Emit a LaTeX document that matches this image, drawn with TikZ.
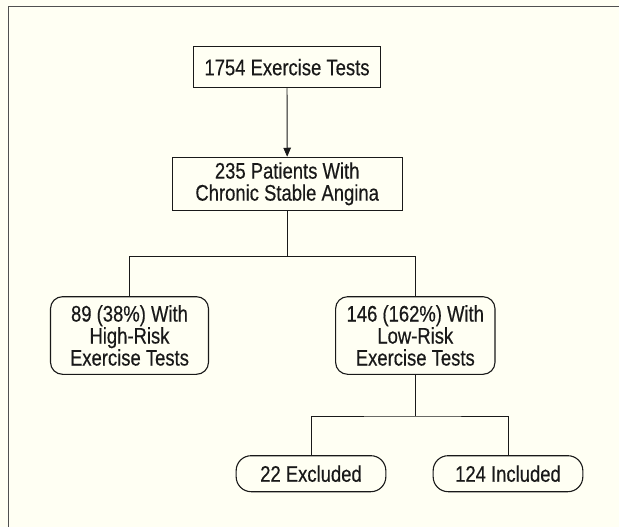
\documentclass[tikz,border=0pt]{standalone}
\usepackage{fontspec}
\setmainfont{Liberation Sans}[FakeStretch=0.82, FakeBold=0.4]
\usetikzlibrary{arrows.meta}
\definecolor{bgcream}{RGB}{255,255,243}
\definecolor{framegray}{RGB}{80,80,80}
\definecolor{inkdark}{RGB}{25,25,25}
\begin{document}
\begin{tikzpicture}[x=1pt,y=-1pt,
  every node/.style={font=\fontsize{22.5}{22}\selectfont, text=inkdark, align=center, inner sep=0pt},
  sqbox/.style={draw=inkdark, line width=1.1pt, fill=bgcream, rectangle},
  rbox/.style={draw=inkdark, line width=1.1pt, fill=bgcream, rectangle, rounded corners=12pt},
  pill/.style={draw=inkdark, line width=1.1pt, fill=bgcream, rectangle, rounded corners=15pt},
  link/.style={draw=inkdark, line width=0.9pt},
  arr/.style={link, -{Triangle[length=9pt,width=7.5pt]}}
]
\useasboundingbox (0,0) rectangle (619,527);
\fill[bgcream] (0,0) rectangle (619,527);
\draw[framegray, line width=1.4pt] (8.3,527) -- (8.3,6.7) -- (619,6.7);

\node[sqbox, minimum width=187pt, minimum height=41pt] (b1) at (287,67.2) {1754 Exercise Tests};
\node[sqbox, minimum width=230pt, minimum height=53pt] (b2) at (287.2,183.8) {235 Patients With\\Chronic Stable Angina};
\node[rbox, minimum width=158pt, minimum height=77.6pt] (hr) at (129.5,335.5) {89 (38\%) With\\High-Risk\\Exercise Tests};
\node[rbox, minimum width=159.4pt, minimum height=77.6pt] (lr) at (415.3,335.5) {146 (162\%) With\\Low-Risk\\Exercise Tests};
\node[pill, minimum width=149.7pt, minimum height=36pt] (ex) at (311,473.7) {22 Excluded};
\node[pill, minimum width=149.7pt, minimum height=36pt] (inc) at (508,473.7) {124 Included};

\coordinate (j1) at (287.2,256.7);
\coordinate (j2) at (415.3,416);

\draw[arr] (b1) -- (b2);
\draw[link] (b2) -- (j1);
\draw[link] (hr.north) |- (j1) -| (lr.north);
\draw[link] (lr) -- (j2);
\draw[link] (ex.north) |- (j2) -| (inc.north);
\end{tikzpicture}
\end{document}
